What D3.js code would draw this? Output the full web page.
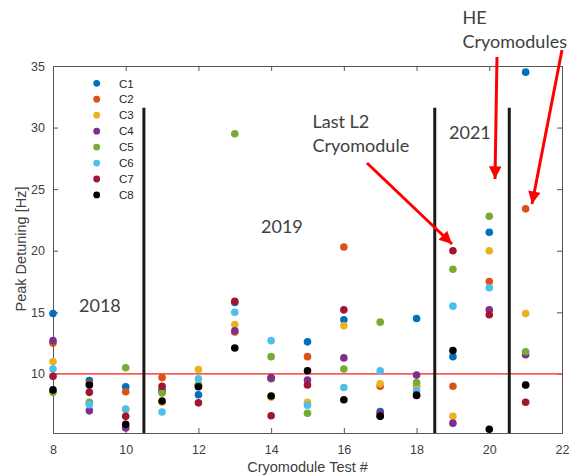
<!DOCTYPE html>
<html lang="en">
<head>
<meta charset="UTF-8">
<title>Peak Detuning</title>
<style>
  body { margin: 0; background: #fff; }
  svg { display: block; }
  .tick text { font-family: Arial, "Liberation Sans", sans-serif; font-size: 12.5px; fill: #404040; }
  .note { font-family: Lato, sans-serif; font-size: 18px; fill: #404040; }
</style>
</head>
<body>
<svg id="chart" width="573" height="475"></svg>
<script src="https://d3js.org/d3.v7.min.js"></script>
<script>
// test numbers on the x axis
const tests = [8, 9, 10, 11, 12, 13, 14, 15, 16, 17, 18, 19, 20, 21];
const seriesNames = ['C1', 'C2', 'C3', 'C4', 'C5', 'C6', 'C7', 'C8'];
const seriesColors = ['#0072BD', '#D95319', '#EDB120', '#7E2F8E', '#77AC30', '#4DBEEE', '#A2142F', '#000000'];

// peak detuning [Hz] per cavity, one value per test
const c1 = [14.9, 9.45, 8.95, 8.7, 8.3, 15.8, 9.6, 12.6, 14.4, 6.95, 14.5, 11.4, 21.5, 34.5];
const c2 = [12.5, 9.2, 8.55, 9.7, 9.0, 13.4, 9.65, 11.4, 20.3, 9.0, 9.0, 9.0, 17.5, 23.4];
const c3 = [11.0, 7.6, 7.1, 7.7, 10.35, 14.0, 8.1, 7.7, 13.9, 9.2, 9.0, 6.55, 20.0, 14.9];
const c4 = [12.7, 7.0, 5.6, 8.6, 9.1, 13.5, 9.7, 9.5, 11.3, 6.8, 9.9, 6.0, 15.2, 11.55];
const c5 = [8.5, 7.7, 10.5, 8.45, 9.1, 29.5, 11.4, 6.8, 10.4, 14.2, 9.3, 18.5, 22.8, 11.8];
const c6 = [10.4, 7.5, 7.15, 6.9, 9.6, 15.0, 12.7, 7.45, 8.9, 10.25, 8.65, 15.5, 17.0, 9.1];
const c7 = [9.8, 8.5, 6.55, 9.0, 7.65, 15.9, 6.6, 9.1, 15.2, 6.6, 8.3, 20.0, 14.8, 7.7];
const c8 = [8.7, 9.1, 5.9, 7.8, 8.95, 12.1, 8.2, 10.25, 7.9, 6.55, 8.25, 11.9, 5.5, 9.1];
const seriesValues = [c1, c2, c3, c4, c5, c6, c7, c8];

const xTicks = [8, 10, 12, 14, 16, 18, 20, 22];
const yTicks = [10, 15, 20, 25, 30, 35];
const limitHz = 10;
const yearDividers = [10.5, 18.5, 20.55];
const dividerTop = 31.6;

const svg = d3.select('#chart');
const mLeft = 53, mRight = 562, mTop = 66, mBottom = 433;

const x = d3.scaleLinear().domain([8, 22]).range([mLeft, mRight]);
const y = d3.scaleLinear().domain([5.2, 35]).range([mBottom, mTop]);

// axes box
const axisColor = '#555';
svg.append('g').attr('transform', `translate(0,${mBottom})`)
  .call(d3.axisBottom(x).tickValues(xTicks).tickSizeInner(-5).tickSizeOuter(0).tickPadding(12))
  .call(g => g.selectAll('line, path').attr('stroke', axisColor));
svg.append('g').attr('transform', `translate(0,${mTop})`)
  .call(d3.axisTop(x).tickValues(xTicks).tickSizeInner(-5).tickSizeOuter(0).tickFormat(''))
  .call(g => g.selectAll('line, path').attr('stroke', axisColor));
svg.append('g').attr('transform', `translate(${mLeft},0)`)
  .call(d3.axisLeft(y).tickValues(yTicks).tickSizeInner(-5).tickSizeOuter(0).tickPadding(8))
  .call(g => g.selectAll('line, path').attr('stroke', axisColor));
svg.append('g').attr('transform', `translate(${mRight},0)`)
  .call(d3.axisRight(y).tickValues(yTicks).tickSizeInner(-5).tickSizeOuter(0).tickFormat(''))
  .call(g => g.selectAll('line, path').attr('stroke', axisColor));

svg.append('text')
  .attr('x', (mLeft + mRight) / 2).attr('y', 472)
  .attr('text-anchor', 'middle')
  .style('font-family', 'Arial, "Liberation Sans", sans-serif').style('font-size', '14.5px').attr('fill', '#404040')
  .text('Cryomodule Test #');
svg.append('text')
  .attr('transform', 'translate(25.5,249) rotate(-90)')
  .attr('text-anchor', 'middle')
  .style('font-family', 'Arial, "Liberation Sans", sans-serif').style('font-size', '14.5px').attr('fill', '#404040')
  .text('Peak Detuning [Hz]');

// 10 Hz limit
svg.append('line')
  .attr('x1', x(8)).attr('x2', x(22))
  .attr('y1', y(limitHz)).attr('y2', y(limitHz))
  .attr('stroke', '#ff5a5a').attr('stroke-width', 1.6);

// year dividers
svg.selectAll('.divider').data(yearDividers).enter().append('line')
  .attr('class', 'divider')
  .attr('x1', d => x(d)).attr('x2', d => x(d))
  .attr('y1', y(dividerTop)).attr('y2', mBottom)
  .attr('stroke', '#1a1a1a').attr('stroke-width', 3);

// points
seriesValues.forEach((vals, s) => {
  svg.append('g').selectAll('circle')
    .data(vals.map((v, i) => ({ t: tests[i], v })))
    .enter().append('circle')
    .attr('cx', d => x(d.t))
    .attr('cy', d => y(d.v))
    .attr('r', 3.8)
    .attr('fill', seriesColors[s]);
});

// legend
const legend = svg.append('g');
seriesNames.forEach((name, i) => {
  const ly = 83.3 + i * 15.95;
  legend.append('circle').attr('cx', 96.7).attr('cy', ly).attr('r', 3.4).attr('fill', seriesColors[i]);
  legend.append('text').attr('x', 119).attr('y', ly + 4.2)
    .style('font-family', 'Arial, "Liberation Sans", sans-serif').style('font-size', '11.5px').attr('fill', '#262626')
    .text(name);
});

// annotations
const notes = [
  { lines: ['2018'], x: 79, y: 312 },
  { lines: ['2019'], x: 261, y: 233 },
  { lines: ['2021'], x: 449, y: 139 },
  { lines: ['Last L2', 'Cryomodule'], x: 312.5, y: 128 },
  { lines: ['HE', 'Cryomodules'], x: 462.5, y: 24 }
];
notes.forEach(n => {
  n.lines.forEach((t, i) => {
    svg.append('text').attr('class', 'note').attr('x', n.x).attr('y', n.y + i * 24).text(t);
  });
});

svg.append('defs').append('marker')
  .attr('id', 'head').attr('viewBox', '0 0 10 10')
  .attr('refX', 10).attr('refY', 5)
  .attr('markerWidth', 4.4).attr('markerHeight', 4.2)
  .attr('markerUnits', 'strokeWidth')
  .attr('orient', 'auto')
  .append('path').attr('d', 'M0,0L10,5L0,10Z').attr('fill', '#ff0000');

const arrows = [
  [367, 163, 452, 244],
  [497, 57, 495, 179],
  [562, 50, 532, 204]
];
svg.selectAll('.arrow').data(arrows).enter().append('line')
  .attr('class', 'arrow')
  .attr('x1', d => d[0]).attr('y1', d => d[1])
  .attr('x2', d => d[2]).attr('y2', d => d[3])
  .attr('stroke', '#ff0000').attr('stroke-width', 3)
  .attr('marker-end', 'url(#head)');
</script>
</body>
</html>
